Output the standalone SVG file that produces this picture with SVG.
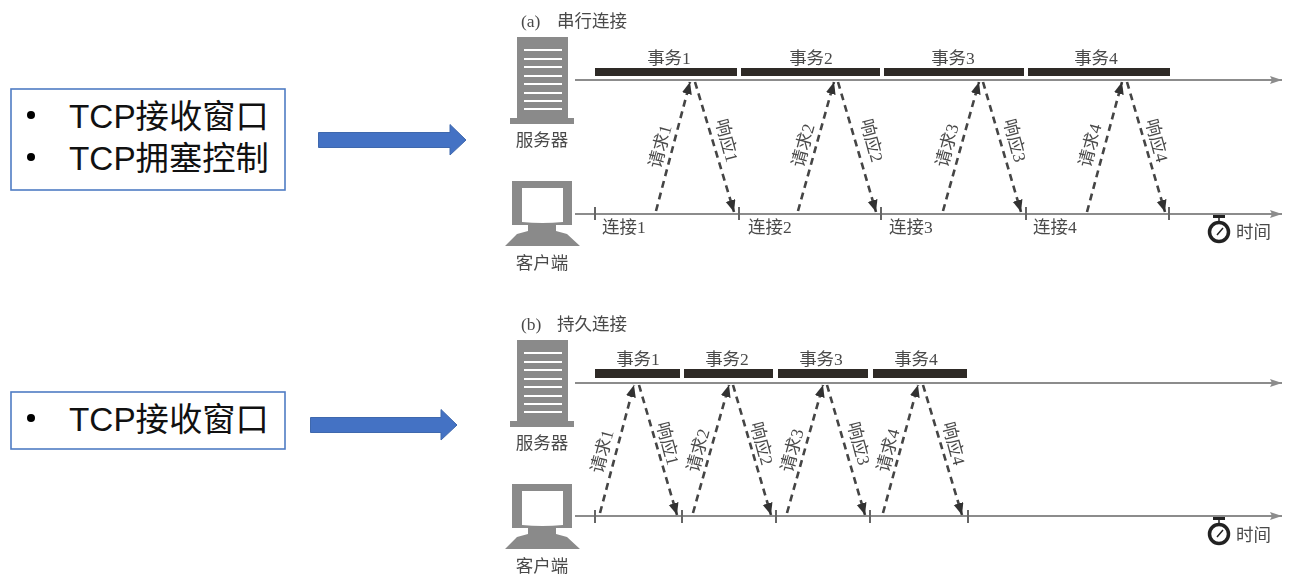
<svg xmlns="http://www.w3.org/2000/svg" width="1290" height="588" viewBox="0 0 1290 588">
<style>
.box{fill:#fff;stroke:#4f7cc4;stroke-width:1.6}
.big{font:33.300px "Liberation Sans","Noto Sans CJK SC",sans-serif;fill:#111}
.dot{fill:#000}
.arrow{fill:#4472c4;stroke:#3f68ad;stroke-width:1}
.t{font:17.500px "Liberation Serif","Noto Sans CJK SC",serif;fill:#4a4a4a}
.m{text-anchor:middle}
.ax{stroke:#8c8c8c;stroke-width:2;fill:none}
.tick{stroke:#666;stroke-width:2}
.bar{fill:#2f2a28}
.d{stroke:#444;stroke-width:2.600;stroke-dasharray:7 5;fill:none}
.g{fill:#8a8a8a}
.w{stroke:#fff;stroke-width:2;fill:none}
</style>
<defs>
<filter id="soft" x="0" y="0" width="100%" height="100%"><feGaussianBlur stdDeviation="0.45"/></filter>
<marker id="ah" markerUnits="userSpaceOnUse" markerWidth="14" markerHeight="12" refX="12" refY="5" orient="auto"><path d="M0 0L12 5L0 10z" fill="#333"/></marker>
<marker id="ax" markerUnits="userSpaceOnUse" markerWidth="13" markerHeight="10" refX="12" refY="4" orient="auto"><path d="M0 0L12 4L0 8L2 4z" fill="#8c8c8c"/></marker>
<g id="srv">
<rect class="g" x="517" y="37" width="51" height="81"/>
<rect class="g" x="510" y="118" width="64" height="6"/>
<path class="w" d="M524 50H562M524 59H562M524 67H562M524 76H562M524 84H562M524 93H562M524 101H562M524 109H562"/>
</g>
<g id="cli">
<path class="g" d="M512 181H572V225H556V231L567 234L580 246H505L517 234L528 231V225H512z"/>
<path fill="#fff" d="M522 188H563V222Q542 224 522 222z"/>
</g>
<g id="watch">
<circle cx="1219" cy="232" r="9.500" fill="#fff" stroke="#222" stroke-width="3.500"/>
<rect x="1213" y="215" width="12" height="3" fill="#222"/>
<path d="M1219 218V222M1217 235L1223 228" stroke="#222" stroke-width="1.500"/>
</g>
</defs>

<g id="box-a"><rect class="box" x="11" y="89" width="274" height="101"/>
<circle class="dot" cx="31" cy="115" r="4"/><circle class="dot" cx="31" cy="157" r="4"/>
<text class="big" x="69" y="128">TCP接收窗口</text><text class="big" x="69" y="170">TCP拥塞控制</text></g>
<g id="arrow-a"><path class="arrow" d="M318.500 132.500H450V124.500L466 140L450 155V147.500H318.500z"/></g>
<g id="box-b"><rect class="box" x="11" y="392" width="274" height="57"/>
<circle class="dot" cx="31" cy="418" r="4"/>
<text class="big" x="69" y="431">TCP接收窗口</text></g>
<g id="arrow-b"><path class="arrow" d="M310.500 417.500H441V409.500L457 425L441 440V432.500H310.500z"/></g>

<g id="figure" filter="url(#soft)">
<text class="t" x="521" y="27">(a) <tspan x="557">串行连接</tspan></text>
<g id="server-a"><use href="#srv"/><text class="t m" x="542" y="146">服务器</text></g>
<g id="client-a"><use href="#cli"/><text class="t m" x="542" y="269">客户端</text></g>
<g id="bars-a">
<rect class="bar" x="595" y="68" width="142" height="8"/><rect class="bar" x="741" y="68" width="139" height="8"/><rect class="bar" x="884" y="68" width="140" height="8"/><rect class="bar" x="1028" y="68" width="142" height="8"/>
<text class="t m" x="669" y="64">事务1</text><text class="t m" x="811" y="64">事务2</text><text class="t m" x="953" y="64">事务3</text><text class="t m" x="1096" y="64">事务4</text>
</g>
<g id="connectors-a">
<path class="ax" marker-end="url(#ax)" d="M575 80H1282"/><path class="ax" marker-end="url(#ax)" d="M575 214H1282"/>
<path class="tick" d="M595 207V220M739 207V220M881 207V220M1026 207V220M1169 207V220"/>
<path class="d" marker-end="url(#ah)" d="M656 211L690 82"/><path class="d" marker-end="url(#ah)" d="M695 82L734 212"/>
<path class="d" marker-end="url(#ah)" d="M798 211L834 82"/><path class="d" marker-end="url(#ah)" d="M838 82L876 212"/>
<path class="d" marker-end="url(#ah)" d="M943 211L979 82"/><path class="d" marker-end="url(#ah)" d="M983 82L1021 212"/>
<path class="d" marker-end="url(#ah)" d="M1087 212L1122 82"/><path class="d" marker-end="url(#ah)" d="M1127 82L1165 212"/>
</g>
<g id="labels-a">
<text class="t" x="602" y="233">连接1</text><text class="t" x="748" y="233">连接2</text><text class="t" x="889" y="233">连接3</text><text class="t" x="1033" y="233">连接4</text>
<text class="t m" transform="translate(666 148) rotate(-75)">请求1</text><text class="t m" transform="translate(809 147) rotate(-75)">请求2</text><text class="t m" transform="translate(953 147) rotate(-75)">请求3</text><text class="t m" transform="translate(1096 147) rotate(-75)">请求4</text>
<text class="t m" transform="translate(721 142) rotate(75)">响应1</text><text class="t m" transform="translate(866 142) rotate(75)">响应2</text><text class="t m" transform="translate(1009 142) rotate(75)">响应3</text><text class="t m" transform="translate(1151 142) rotate(75)">响应4</text>
</g>
<g id="timer-a"><use href="#watch"/><text class="t" x="1236" y="238">时间</text></g>

<text class="t" x="521" y="330">(b) <tspan x="557">持久连接</tspan></text>
<g id="server-b"><use href="#srv" y="303"/><text class="t m" x="542" y="449">服务器</text></g>
<g id="client-b"><use href="#cli" y="303"/><text class="t m" x="542" y="572">客户端</text></g>
<g id="bars-b">
<rect class="bar" x="595" y="369" width="85" height="9"/><rect class="bar" x="684" y="369" width="89" height="9"/><rect class="bar" x="778" y="369" width="90" height="9"/><rect class="bar" x="873" y="369" width="94" height="9"/>
<text class="t m" x="638" y="365">事务1</text><text class="t m" x="727" y="365">事务2</text><text class="t m" x="821" y="365">事务3</text><text class="t m" x="916" y="365">事务4</text>
</g>
<g id="connectors-b">
<path class="ax" marker-end="url(#ax)" d="M575 383H1282"/><path class="ax" marker-end="url(#ax)" d="M575 516H1282"/>
<path class="tick" d="M595 510V523M682 510V523M776 510V523M870 510V523M968 510V523"/>
<path class="d" marker-end="url(#ah)" d="M600 513L634 385"/><path class="d" marker-end="url(#ah)" d="M639 385L677 515"/>
<path class="d" marker-end="url(#ah)" d="M693 513L729 385"/><path class="d" marker-end="url(#ah)" d="M733 385L771 515"/>
<path class="d" marker-end="url(#ah)" d="M787 513L823 385"/><path class="d" marker-end="url(#ah)" d="M827 385L865 515"/>
<path class="d" marker-end="url(#ah)" d="M883 513L918 385"/><path class="d" marker-end="url(#ah)" d="M923 385L962 515"/>
</g>
<g id="labels-b">
<text class="t m" transform="translate(608 453) rotate(-75)">请求1</text><text class="t m" transform="translate(704 452) rotate(-75)">请求2</text><text class="t m" transform="translate(798 452) rotate(-75)">请求3</text><text class="t m" transform="translate(894 452) rotate(-75)">请求4</text>
<text class="t m" transform="translate(662 445) rotate(75)">响应1</text><text class="t m" transform="translate(756 445) rotate(75)">响应2</text><text class="t m" transform="translate(853 445) rotate(75)">响应3</text><text class="t m" transform="translate(948 445) rotate(75)">响应4</text>
</g>
<g id="timer-b"><use href="#watch" y="302"/><text class="t" x="1236" y="541">时间</text></g>
</g>
</svg>
